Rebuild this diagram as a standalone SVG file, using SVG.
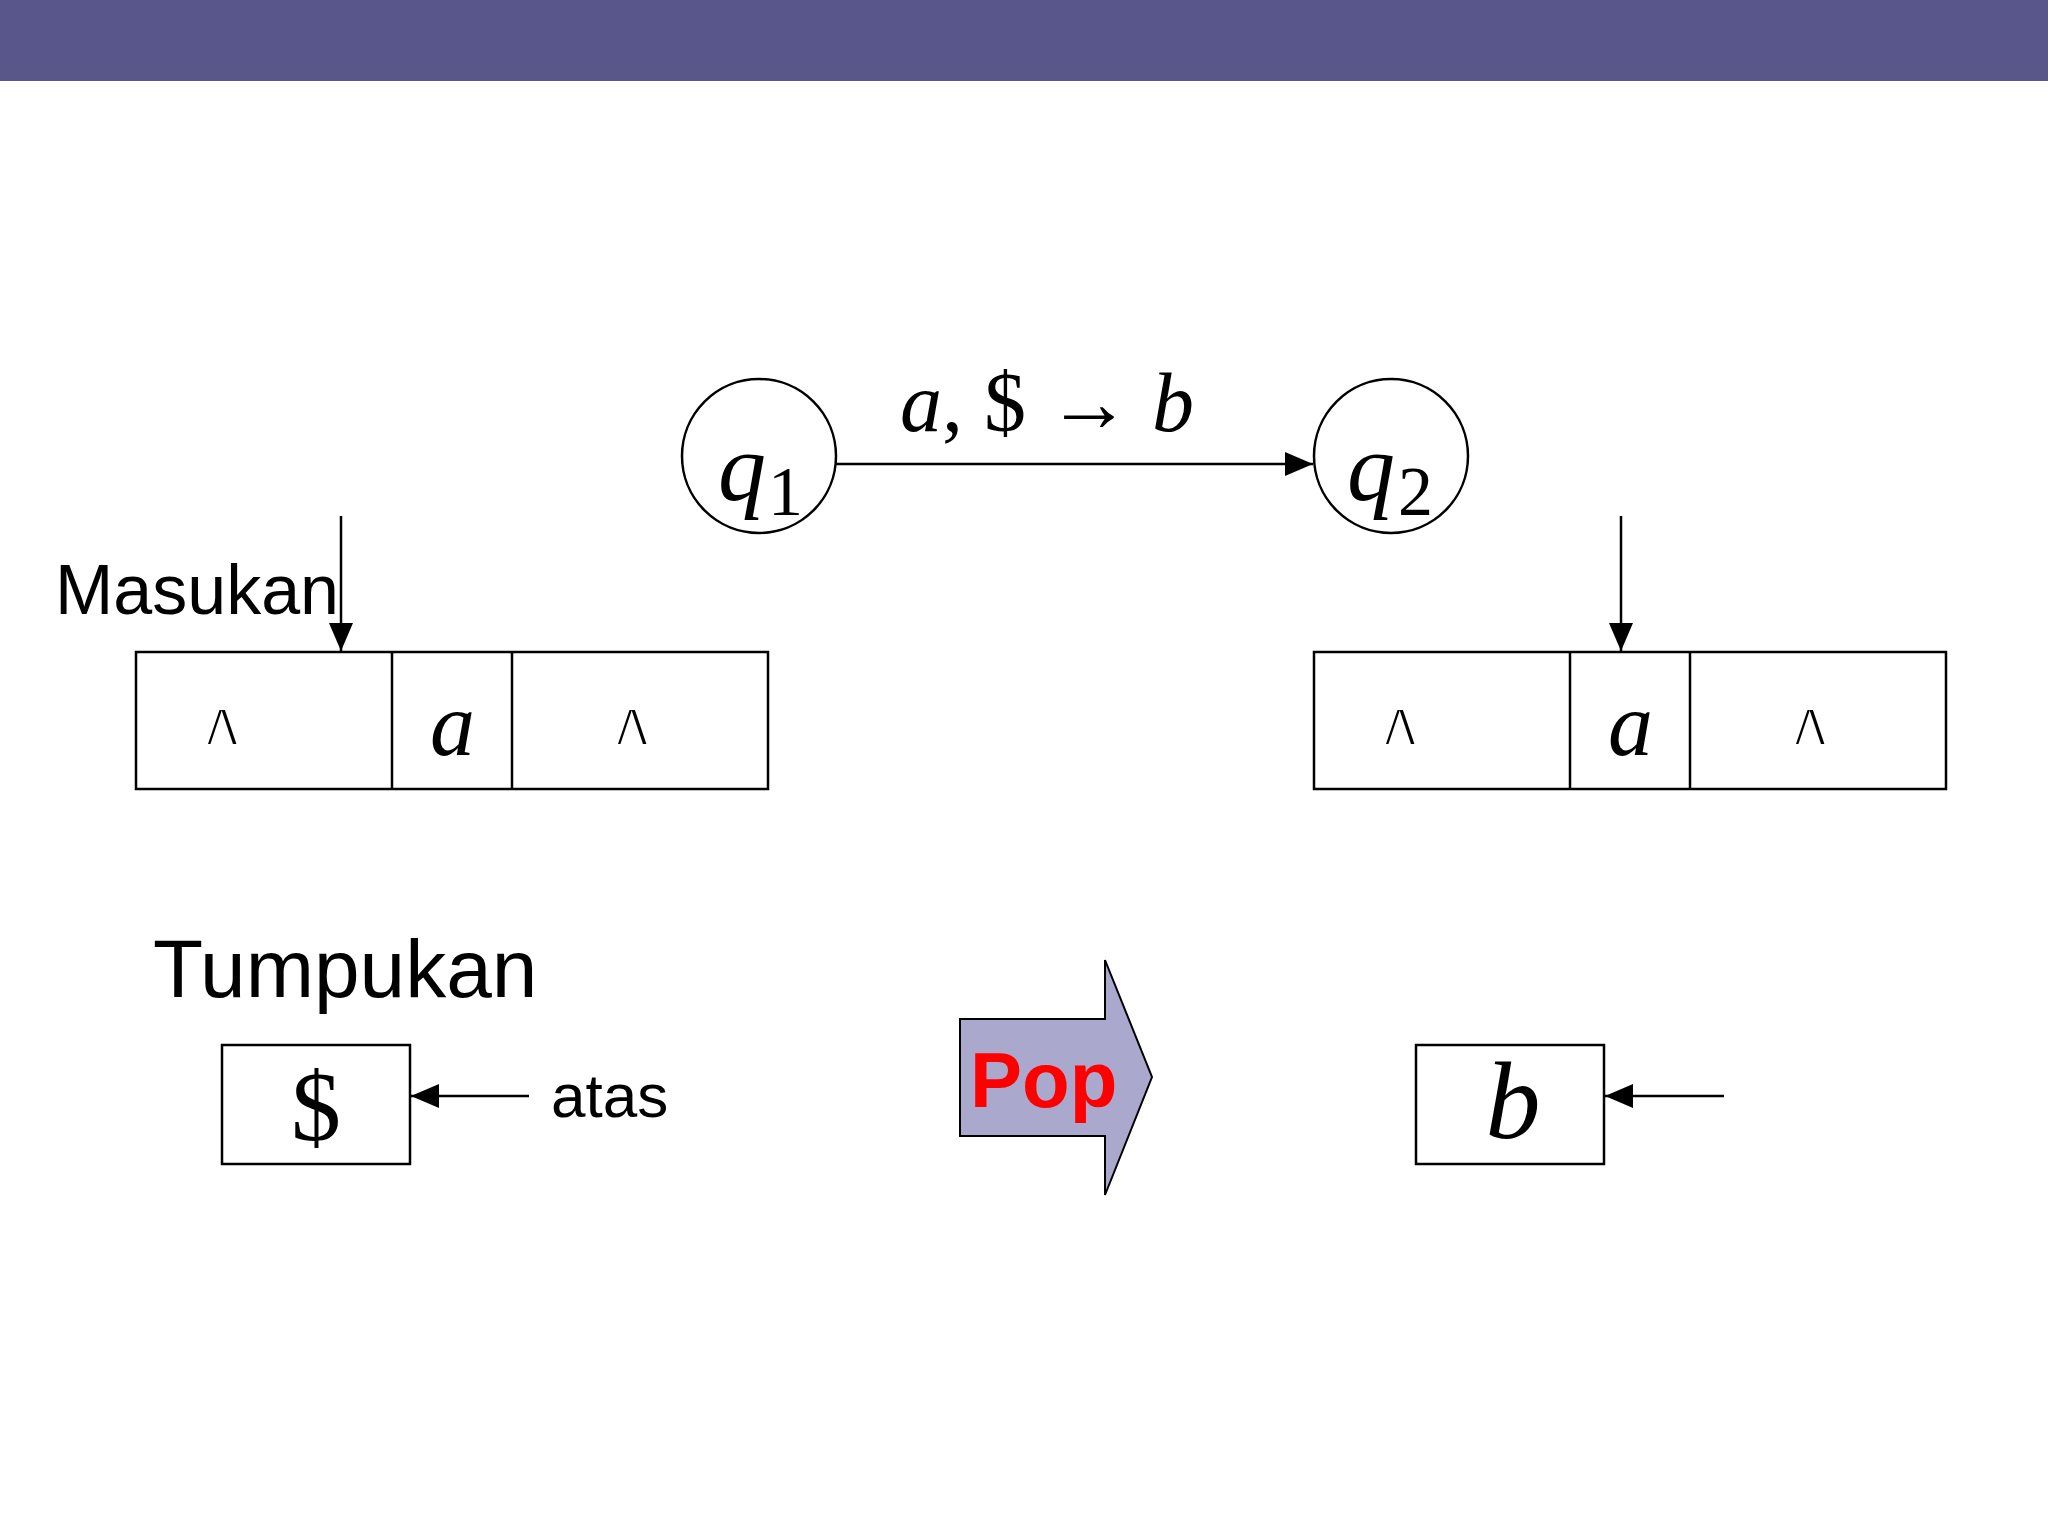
<svg xmlns="http://www.w3.org/2000/svg" width="2048" height="1536" viewBox="0 0 2048 1536">
<style>
.ln{stroke:#000;stroke-width:2.5;fill:none}
.bx{stroke:#000;stroke-width:2.5;fill:#fff}
.m{font-family:"Liberation Serif",serif;font-style:italic}
.s{font-family:"Liberation Sans",Arial,sans-serif}
</style>
<defs><marker id="ah" markerWidth="12" markerHeight="10" refX="11" refY="5" orient="auto" markerUnits="userSpaceOnUse" viewBox="0 0 12 10"><path d="M0,0L12,5L0,10z"/></marker>
<marker id="ah2" markerWidth="28" markerHeight="24" refX="28" refY="12" orient="auto" markerUnits="userSpaceOnUse"><path d="M0,0L28,12L0,24z"/></marker></defs>
<rect x="0" y="0" width="2048" height="81" fill="#58568a"/>
<g id="q1"><circle cx="759" cy="456" r="77" class="ln"/><text x="718" y="500" class="m" font-size="96">q</text><text x="768" y="515" font-family="Liberation Serif,serif" font-size="70">1</text></g>
<g id="q2"><circle cx="1391" cy="456" r="77" class="ln"/><text x="1347" y="500" class="m" font-size="96">q</text><text x="1398" y="515" font-family="Liberation Serif,serif" font-size="70">2</text></g>
<g id="label"><text x="900" y="431" font-family="Liberation Serif,serif" font-size="84"><tspan font-style="italic">a</tspan>, $ → <tspan font-style="italic">b</tspan></text></g>
<g id="tape1"><rect x="136" y="652" width="632" height="137" class="bx"/><line x1="392" y1="652" x2="392" y2="789" class="ln"/><line x1="512" y1="652" x2="512" y2="789" class="ln"/>
<text x="208" y="743" font-family="Liberation Serif,serif" font-size="50">/<tspan font-weight="bold">\</tspan></text>
<text x="430" y="755" class="m" font-size="90">a</text>
<text x="618" y="743" font-family="Liberation Serif,serif" font-size="50">/<tspan font-weight="bold">\</tspan></text></g>
<g id="tape2"><rect x="1314" y="652" width="632" height="137" class="bx"/><line x1="1570" y1="652" x2="1570" y2="789" class="ln"/><line x1="1690" y1="652" x2="1690" y2="789" class="ln"/>
<text x="1386" y="743" font-family="Liberation Serif,serif" font-size="50">/<tspan font-weight="bold">\</tspan></text>
<text x="1608" y="755" class="m" font-size="90">a</text>
<text x="1796" y="743" font-family="Liberation Serif,serif" font-size="50">/<tspan font-weight="bold">\</tspan></text></g>
<text x="55" y="614" class="s" font-size="70">Masukan</text>
<text x="153" y="997" class="s" font-size="82">Tumpukan</text>
<g id="stack1"><rect x="222" y="1045" width="188" height="119" class="bx"/><text x="316" y="1140" text-anchor="middle" font-family="Liberation Serif,serif" font-size="100">$</text></g>
<text x="551" y="1117" class="s" font-size="62">atas</text>
<g id="pop"><polygon points="960,1019 1105,1019 1105,960 1152,1077 1105,1195 1105,1136 960,1136" fill="#aaa8cc" stroke="#000" stroke-width="2"/><text x="970" y="1107" class="s" font-size="78" font-weight="bold" fill="#f00">Pop</text></g>
<g id="stack2"><rect x="1416" y="1045" width="188" height="119" class="bx"/><text x="1513" y="1138" text-anchor="middle" class="m" font-size="110">b</text></g>
<g id="connectors">
<line x1="836" y1="464" x2="1313" y2="464" class="ln" marker-end="url(#ah2)"/>
<line x1="341" y1="516" x2="341" y2="651" class="ln" marker-end="url(#ah2)"/>
<line x1="1621" y1="516" x2="1621" y2="651" class="ln" marker-end="url(#ah2)"/>
<line x1="529" y1="1096" x2="411" y2="1096" class="ln" marker-end="url(#ah2)"/>
<line x1="1724" y1="1096" x2="1605" y2="1096" class="ln" marker-end="url(#ah2)"/>
</g>
</svg>
